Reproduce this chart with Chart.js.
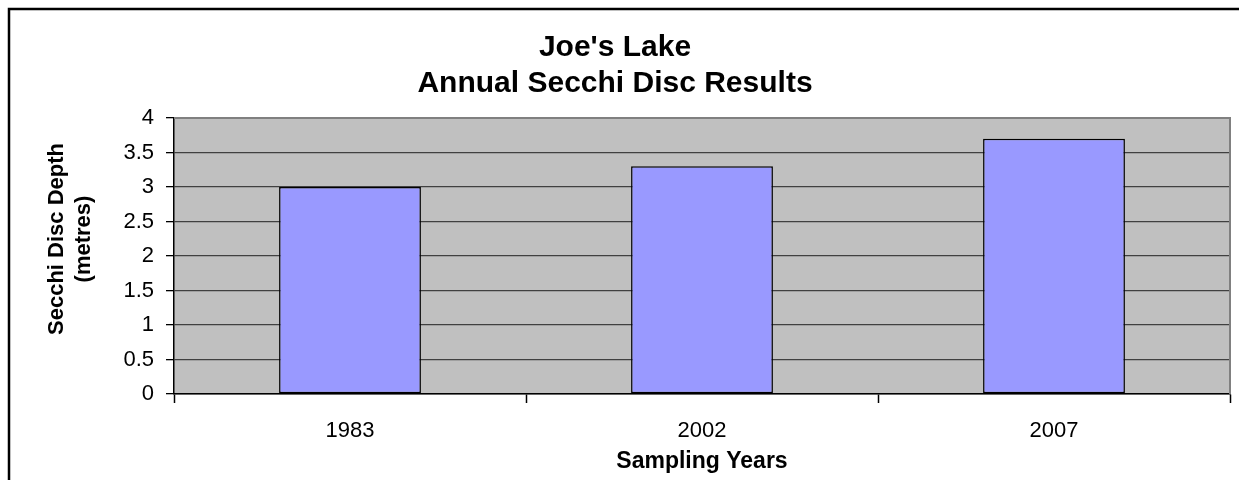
<!DOCTYPE html>
<html>
<head>
<meta charset="utf-8">
<script src="https://cdn.jsdelivr.net/npm/chart.js@4"></script>
<style>
  html, body { margin: 0; padding: 0; background: #ffffff; }
  #wrap { width: 1239px; height: 480px; }
</style>
</head>
<body>
<div id="wrap"><canvas id="c" width="1239" height="480"></canvas></div>
<script>
const categories = ['1983', '2002', '2007'];
const depthValues = [3.0, 3.3, 3.7];
const titleLines = ["Joe's Lake", 'Annual Secchi Disc Results'];
const yTitleLines = ['Secchi Disc Depth', '(metres)'];
const xTitle = 'Sampling Years';
const yMin = 0, yMax = 4, yStep = 0.5;

const FONT = "'Liberation Sans', Arial, sans-serif";

const framePlugin = {
  id: 'frame',
  beforeDraw(chart) {
    const {ctx, chartArea: a} = chart;
    ctx.save();
    ctx.fillStyle = '#ffffff';
    ctx.fillRect(0, 0, chart.width, chart.height);
    ctx.strokeStyle = '#000000';
    ctx.lineWidth = 2.5;
    ctx.strokeRect(9, 9, chart.width + 20, chart.height + 20);
    ctx.fillStyle = '#C0C0C0';
    ctx.fillRect(a.left, a.top, a.right - a.left, a.bottom - a.top);
    ctx.restore();
  },
  beforeDatasetsDraw(chart) {
    const {ctx, chartArea: a} = chart;
    ctx.save();
    ctx.strokeStyle = '#808080';
    ctx.lineWidth = 2;
    ctx.beginPath();
    ctx.moveTo(a.left, a.top);
    ctx.lineTo(a.right, a.top);
    ctx.lineTo(a.right, a.bottom);
    ctx.stroke();
    ctx.restore();
  },
  afterDraw(chart) {
    const {ctx} = chart;
    ctx.save();
    ctx.fillStyle = '#000000';
    ctx.font = 'bold 22px ' + FONT;
    ctx.textAlign = 'center';
    ctx.textBaseline = 'middle';
    const cy = 239;
    const xs = [57, 84];
    yTitleLines.forEach((t, i) => {
      ctx.save();
      ctx.translate(xs[i], cy);
      ctx.rotate(-Math.PI / 2);
      ctx.fillText(t, 0, 0);
      ctx.restore();
    });
    ctx.restore();
  }
};

new Chart(document.getElementById('c'), {
  type: 'bar',
  data: {
    labels: categories,
    datasets: [{
      data: depthValues,
      backgroundColor: '#9999FF',
      borderColor: '#000000',
      borderWidth: 1.5,
      borderSkipped: false,
      categoryPercentage: 1.0,
      barPercentage: 0.403
    }]
  },
  options: {
    responsive: false,
    devicePixelRatio: 1,
    animation: false,
    layout: { padding: { left: 0, right: 9, top: 0, bottom: 0 } },
    plugins: {
      legend: { display: false },
      tooltip: { enabled: false },
      title: {
        display: true,
        text: titleLines,
        color: '#000000',
        font: { family: FONT, size: 30, weight: 'bold', lineHeight: 1.2 },
        padding: { top: 30, bottom: 16 }
      }
    },
    scales: {
      x: {
        type: 'category',
        afterFit(scale) { scale.height = 86; },
        grid: {
          offset: true,
          drawOnChartArea: false,
          drawTicks: true,
          tickLength: 9,
          tickColor: '#000000',
          tickWidth: 1.5
        },
        border: { display: true, color: '#000000', width: 1.5 },
        ticks: {
          color: '#000000',
          padding: 15,
          font: { family: FONT, size: 22, lineHeight: 1.2 }
        },
        title: {
          display: true,
          text: xTitle,
          color: '#000000',
          font: { family: FONT, size: 23, weight: 'bold', lineHeight: 1.2 },
          padding: { top: 0, bottom: 5 }
        }
      },
      y: {
        min: yMin,
        max: yMax,
        afterFit(scale) { scale.width = 174; },
        grid: {
          color: (c) => (c.tick && c.tick.value === yMax) ? '#808080' : '#404040',
          lineWidth: 1.3,
          drawTicks: true,
          tickLength: 8,
          tickColor: '#000000',
          tickWidth: 1.3
        },
        border: { display: true, color: '#000000', width: 1.5 },
        ticks: {
          stepSize: yStep,
          color: '#000000',
          padding: 12,
          font: { family: FONT, size: 22, lineHeight: 1.2 },
          callback: (v) => String(v)
        }
      }
    }
  },
  plugins: [framePlugin]
});
</script>
</body>
</html>
